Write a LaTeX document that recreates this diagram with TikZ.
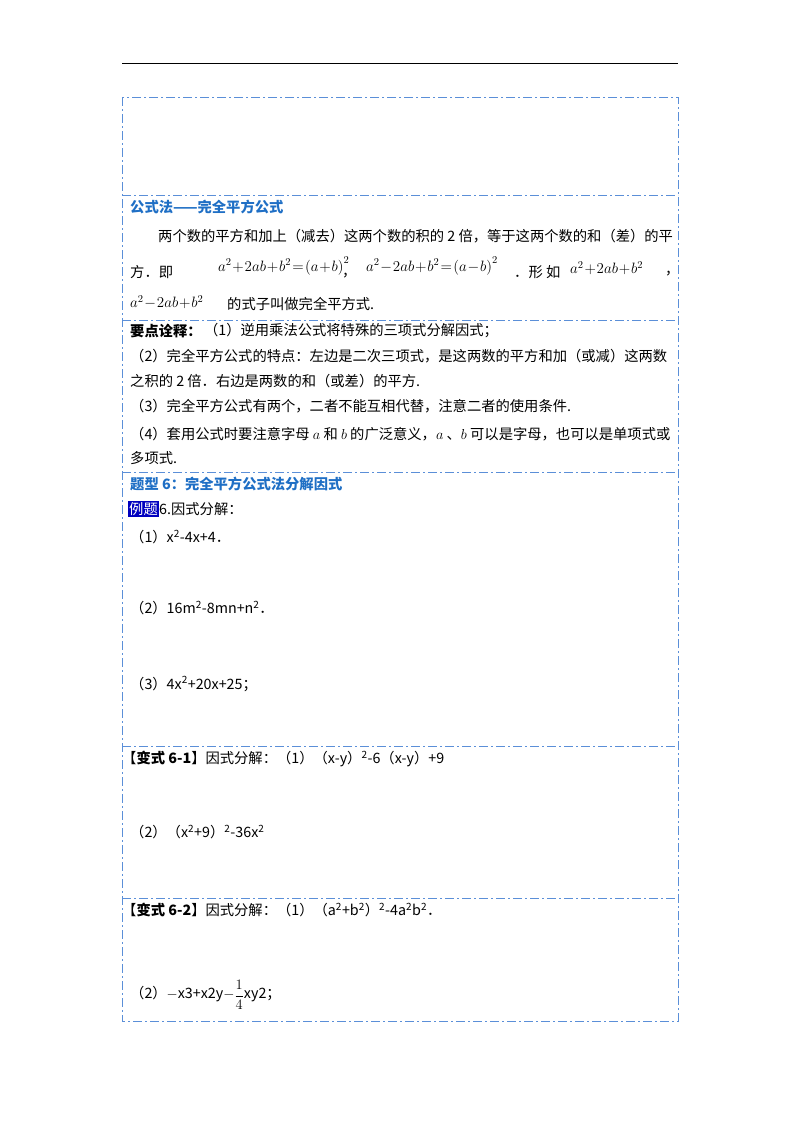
\RequirePackage{fix-cm}
\documentclass[tikz,border=0pt]{standalone}
\usepackage{fontspec}
\usepackage{amsmath}
\newfontfamily\cjk{Noto Sans CJK SC}
\usetikzlibrary{positioning}
\definecolor{boxblue}{HTML}{5B8FD8}
\definecolor{headblue}{HTML}{1F6FC5}
\newcommand{\frmfont}{\fontsize{15}{17}\selectfont\medmuskip=1mu\relax\thickmuskip=1.5mu\relax}
\tikzset{
  txt/.style={anchor=west,inner sep=0pt,font=\cjk\fontsize{14.3}{16}\selectfont},
  head/.style={txt,font=\cjk\bfseries\fontsize{14.3}{16}\selectfont,text=headblue},
  frm/.style={anchor=west,inner sep=0pt,font=\frmfont},
  divider/.style={boxblue,line width=0.9pt,dash pattern=on 9pt off 3pt on 2pt off 3pt}
}
\begin{document}
\begin{tikzpicture}[x=1pt,y=-1pt]
	\useasboundingbox (0,0) rectangle (800,1132);
	% header rule and frame
	\coordinate (rl) at (122,63);
	\coordinate (rr) at (678,63);
	\draw[line width=0.8pt] (rl) -- (rr);
	\coordinate (tl) at (122,97);
	\coordinate (br) at (678,1021);
	\draw[divider] (tl) rectangle (br);
	\foreach \yy in {195,320,472,746,898}
		\draw[divider] (122,\yy) -- (678,\yy);
	% section: formula
	\node[head] (h1) at (130,207) {公式法——完全平方公式};
	\node[txt] (p1) at (158,236) {两个数的平方和加上（减去）这两个数的积的 2 倍，等于这两个数的和（差）的平};
	\node[txt] (p2a) at (130,272) {方．即};
	\node[frm] (f1) at (218,266) {$a^2+2ab+b^2=\left(a+b\right)^2$};
	\node[txt] (p2b) at (342,276) {，};
	\node[frm] (f2) at (366,266) {$a^2-2ab+b^2=\left(a-b\right)^2$};
	\node[txt] (p2c) at (514,272) {．形 如};
	\node[frm] (f3) at (570,268) {$a^2+2ab+b^2$};
	\node[txt] (p2d) at (665,274) {，};
	\node[frm] (f4) at (130,302) {$a^2-2ab+b^2$};
	\node[txt] (p3) at (227,304) {的式子叫做完全平方式.};
	% section: notes
	\node[txt,font=\cjk\bfseries\fontsize{14.3}{16}\selectfont] (k0) at (130,331) {要点诠释：};
	\node[txt] (k1) [right=2pt of k0] {（1）逆用乘法公式将特殊的三项式分解因式；};
	\node[txt] (k2) at (130,356) {（2）完全平方公式的特点：左边是二次三项式，是这两数的平方和加（或减）这两数};
	\node[txt] (k3) at (130,381) {之积的 2 倍．右边是两数的和（或差）的平方.};
	\node[txt] (k4) at (130,406) {（3）完全平方公式有两个，二者不能互相代替，注意二者的使用条件.};
	\node[txt] (k5) at (130,434) {（4）套用公式时要注意字母 {\Large$a$} 和 {\Large$b$} 的广泛意义，{\Large$a$} 、{\Large$b$} 可以是字母，也可以是单项式或};
	\node[txt] (k6) at (130,458) {多项式.};
	% section: example
	\node[head] (h2) at (130,484) {题型 6：完全平方公式法分解因式};
	\node[txt,fill=blue!75!black,text=white,inner sep=1pt] (ex) at (128,509) {例题};
	\node[txt] (ex6) [right=0pt of ex] {6.因式分解：};
	\node[txt] (e1) at (130,537) {（1）x\textsuperscript{2}-4x+4．};
	\node[txt] (e2) at (130,608) {（2）16m\textsuperscript{2}-8mn+n\textsuperscript{2}．};
	\node[txt] (e3) at (130,684) {（3）4x\textsuperscript{2}+20x+25；};
	% section: variant 6-1
	\node[txt] (v1) at (122,759) {【\textbf{变式 6-1}】因式分解：（1）（x-y）\textsuperscript{2}-6（x-y）+9};
	\node[txt] (v1b) at (130,832) {（2）（x\textsuperscript{2}+9）\textsuperscript{2}-36x\textsuperscript{2}};
	% section: variant 6-2
	\node[txt] (v2) at (122,910) {【\textbf{变式 6-2}】因式分解：（1）（a\textsuperscript{2}+b\textsuperscript{2}）\textsuperscript{2}-4a\textsuperscript{2}b\textsuperscript{2}．};
	\node[txt] (v2b) at (130,995) {（2）$-$x3+x2y$-$\raisebox{-0.2ex}{\Large$\dfrac{1}{4}$}xy2；};
\end{tikzpicture}
\end{document}
